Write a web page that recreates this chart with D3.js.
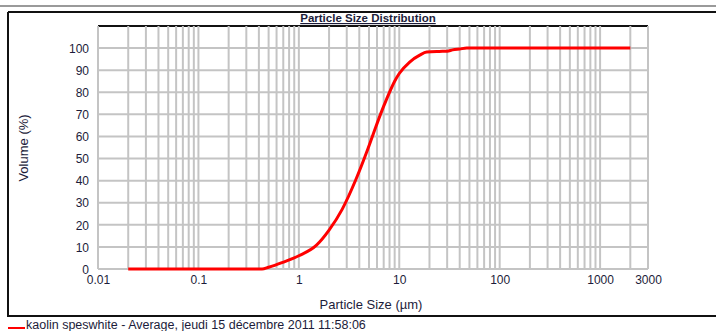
<!DOCTYPE html>
<html><head><meta charset="utf-8">
<script src="https://cdn.jsdelivr.net/npm/d3@7"></script>
<style>
html,body{margin:0;padding:0;background:#fff;overflow:hidden}
svg{display:block;font-family:"Liberation Sans",Arial,sans-serif}
</style></head>
<body><svg id="c" width="716" height="331"></svg>
<script>
const sizes =   [0.02, 0.1, 0.3, 0.43, 0.5, 0.69, 1.0, 1.5, 2.0, 2.7, 3.7, 4.7, 5.5, 6.5, 7.5, 9.0, 10, 12.7, 16, 18.8, 25, 30, 34, 40, 47, 100, 500, 1000, 2000];
const volumes = [0,    0,   0,   0,    0.8, 3,    6,   10.8, 17.6, 27, 40.5, 52.5, 61, 70, 77, 85, 88.5, 93.7, 96.8, 98.2, 98.5, 98.6, 99.2, 99.6, 100, 100, 100, 100, 100];
const xTickValues = [0.01, 0.1, 1, 10, 100, 1000, 3000];
const xTickLabels = ["0.01", "0.1", "1", "10", "100", "1000", "3000"];
const yTickValues = [0, 10, 20, 30, 40, 50, 60, 70, 80, 90, 100];
const titleText = "Particle Size Distribution";
const xTitle = "Particle Size (µm)";
const yTitle = "Volume (%)";
const legendText = "kaolin speswhite - Average, jeudi 15 décembre 2011 11:58:06";

const svg = d3.select("#c");
const L = 98, R = 648, T = 26, B = 269;
const x = d3.scaleLog().domain([0.01, 3000]).range([L, R]);
const y = d3.scaleLinear().domain([0, 110]).range([B, T]);
const textCol = "#1c1c3a";

// outer frame
svg.append("line").attr("x1",0).attr("x2",716).attr("y1",6).attr("y2",6).attr("stroke","#9a9a9a").attr("stroke-width",2);
svg.append("line").attr("x1",8).attr("x2",716).attr("y1",12).attr("y2",12).attr("stroke","#111").attr("stroke-width",2);
svg.append("line").attr("x1",8).attr("x2",8).attr("y1",12).attr("y2",317).attr("stroke","#111").attr("stroke-width",2);
svg.append("line").attr("x1",8).attr("x2",716).attr("y1",316).attr("y2",316).attr("stroke","#111").attr("stroke-width",2);

// top border of plot (black)
svg.append("line").attr("x1",L).attr("x2",R).attr("y1",y(110)).attr("y2",y(110)).attr("stroke","#111").attr("stroke-width",2);

// vertical gridlines
const vgrid = [];
for (let e = -2; e <= 3; e++) for (let m = 1; m <= 9; m++) { const v = m * Math.pow(10, e); if (v <= 3000) vgrid.push(v); }
vgrid.push(3000);
const grid = svg.append("g").attr("stroke","#c4c4c4").attr("stroke-width",2);
grid.selectAll("line.v").data(vgrid).join("line").attr("class","v")
  .attr("x1",d=>x(d)).attr("x2",d=>x(d)).attr("y1",T).attr("y2",B);
grid.selectAll("line.h").data(yTickValues).join("line").attr("class","h")
  .attr("x1",L).attr("x2",R).attr("y1",d=>y(d)).attr("y2",d=>y(d));

// axes labels
const yAxis = d3.axisLeft(y).tickValues(yTickValues).tickSize(0).tickPadding(9).tickFormat(d3.format("d"));
const gy = svg.append("g").attr("transform",`translate(${L},0)`).call(yAxis);
gy.select(".domain").remove();
gy.selectAll("text").attr("font-size",12).attr("fill",textCol).attr("font-family","Liberation Sans, Arial, sans-serif").attr("dy","0.35em");

const xAxis = d3.axisBottom(x).tickValues(xTickValues).tickSize(0).tickPadding(6).tickFormat((d,i)=>xTickLabels[i]);
const gx = svg.append("g").attr("transform",`translate(0,${B})`).call(xAxis);
gx.select(".domain").remove();
gx.selectAll("text").attr("font-size",12).attr("fill",textCol).attr("font-family","Liberation Sans, Arial, sans-serif");

// curve
const pts = sizes.map((s,i)=>[s, volumes[i]]);
const line = d3.line().x(d=>x(d[0])).y(d=>y(d[1])).curve(d3.curveMonotoneX);
svg.append("path").datum(pts).attr("d",line).attr("fill","none").attr("stroke","#ff0000").attr("stroke-width",3).attr("stroke-linejoin","round");

// title
svg.append("text").attr("x",368).attr("y",22).attr("text-anchor","middle")
  .attr("font-size",11.5).attr("font-weight","bold").attr("fill",textCol)
  .attr("text-decoration","underline").text(titleText);

// axis titles
svg.append("text").attr("x",371).attr("y",309).attr("text-anchor","middle").attr("font-size",13).attr("fill",textCol).text(xTitle);
svg.append("text").attr("transform","translate(28,148) rotate(-90)").attr("text-anchor","middle").attr("font-size",13).attr("fill",textCol).text(yTitle);

// legend
svg.append("line").attr("x1",8).attr("x2",25).attr("y1",328).attr("y2",328).attr("stroke","#ff0000").attr("stroke-width",2);
svg.append("text").attr("x",26).attr("y",329).attr("font-size",12.5).attr("fill",textCol).text(legendText);
</script></body></html>
